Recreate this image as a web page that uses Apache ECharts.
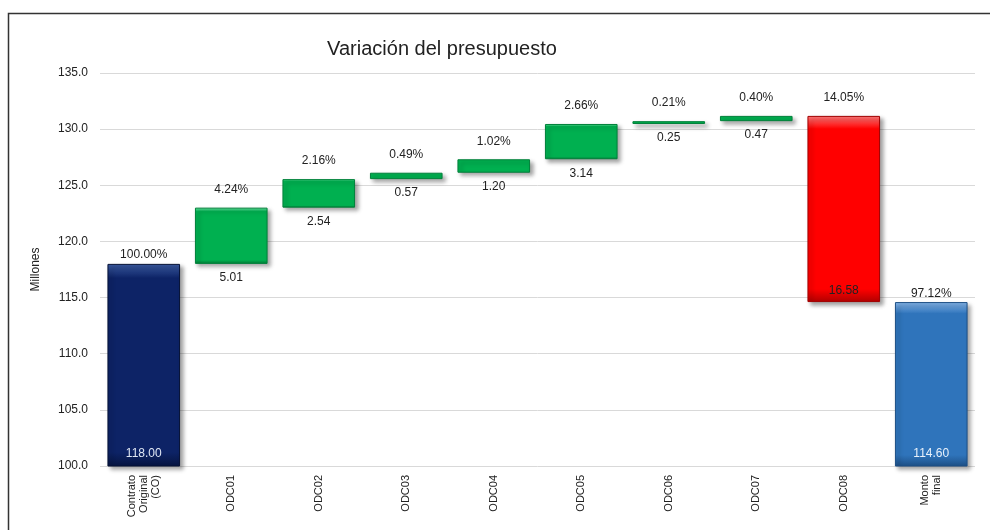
<!DOCTYPE html>
<html><head><meta charset="utf-8">
<script src="https://cdn.jsdelivr.net/npm/echarts@6/dist/echarts.min.js"></script>
<style>html,body{margin:0;padding:0;background:#fff}#c{width:990px;height:530px}</style>
</head><body><div id="c"></div>
<script>
const categories = ['Contrato\nOriginal\n(CO)','ODC01','ODC02','ODC03','ODC04','ODC05','ODC06','ODC07','ODC08','Monto\nfinal'];
const startValue = 118.00;
const changes = [5.01, 2.54, 0.57, 1.20, 3.14, 0.25, 0.47, -16.58];
const finalValue = 114.60;
const pctLabels = ['100.00%','4.24%','2.16%','0.49%','1.02%','2.66%','0.21%','0.40%','14.05%','97.12%'];
const valueLabels = ['118.00','5.01','2.54','0.57','1.20','3.14','0.25','0.47','16.58','114.60'];
const yTicks = {min:100, max:135, interval:5};

const F = 'Liberation Sans, Arial, sans-serif';
function grad(light, mid, dark){
  return new echarts.graphic.LinearGradient(0,0,0,1,[
    {offset:0,color:light},{offset:0.07,color:mid},{offset:0.93,color:mid},{offset:1,color:dark}]);
}
const styles = {
  co:{color:grad('#3a5aa0','#0d2366','#061440'), borderColor:'#051035'},
  up:{color:grad('#6ae6a2','#00b050','#007a35'), borderColor:'#00803a'},
  down:{color:grad('#ff7a7a','#ff0000','#b00000'), borderColor:'#a00000'},
  fin:{color:grad('#86b6ea','#2f74bb','#1d4f85'), borderColor:'#1d4f85'}
};
const base = [], delta = [], zero = [];
let run = startValue;
base.push({value:0, itemStyle:{color:'transparent'}});
delta.push({value:startValue, itemStyle:styles.co,
  label:{show:true, position:'insideBottom', distance:7, formatter:valueLabels[0], color:'#dfe6f3'}});
zero.push({value:0, label:{distance:3}});
changes.forEach((c,i)=>{
  const lo = c>=0 ? run : run + c;
  base.push({value:lo, itemStyle:{color:'transparent'}});
  const st = c>=0 ? styles.up : styles.down;
  const lab = c>=0
    ? {show:true, position:'bottom', distance:8, formatter:valueLabels[i+1], color:'#222'}
    : {show:true, position:'insideBottom', distance:5, formatter:valueLabels[i+1], color:'#222'};
  delta.push({value:Math.abs(c), itemStyle:st, label:lab});
  zero.push({value:0, label:{distance:12}});
  run += c;
});
base.push({value:0, itemStyle:{color:'transparent'}});
delta.push({value:finalValue, itemStyle:styles.fin,
  label:{show:true, position:'insideBottom', distance:7, formatter:valueLabels[9], color:'#e8f0fa'}});
zero.push({value:0, label:{distance:2}});

const chart = echarts.init(document.getElementById('c'), null, {renderer:'canvas'});
chart.setOption({
  animation:false,
  backgroundColor:'#fff',
  textStyle:{fontFamily:F},
  title:{text:'Variación del presupuesto', left:437, top:34, textAlign:'center',
    textStyle:{fontFamily:F, fontSize:20, fontWeight:'normal', color:'#222'}},
  graphic:[{type:'rect', shape:{x:8.5, y:13.5, width:1000, height:540},
    style:{fill:'none', stroke:'#333', lineWidth:1.5}, silent:true}],
  grid:{left:100, right:15, top:73, bottom:64},
  xAxis:{type:'category', data:categories,
    axisLine:{show:false}, axisTick:{show:false},
    axisLabel:{rotate:90, interval:0, margin:9, fontFamily:F, fontSize:11, color:'#222', lineHeight:12}},
  yAxis:{type:'value', min:yTicks.min, max:yTicks.max, interval:yTicks.interval,
    name:'Millones', nameLocation:'middle', nameGap:58,
    nameTextStyle:{fontFamily:F, fontSize:12, color:'#222'},
    axisLine:{show:false}, axisTick:{show:false},
    axisLabel:{formatter:v=>v.toFixed(1), fontFamily:F, fontSize:12, color:'#222', margin:12},
    splitLine:{lineStyle:{color:'#d9d9d9', width:1}}},
  series:[
    {type:'bar', stack:'w', data:base, barWidth:'83%', silent:true, itemStyle:{color:'transparent'}},
    {type:'bar', stack:'w', data:delta, barWidth:'83%',
      itemStyle:{borderWidth:1, shadowBlur:4, shadowOffsetX:3, shadowOffsetY:3, shadowColor:'rgba(0,0,0,0.35)'},
      label:{fontFamily:F, fontSize:12}},
    {type:'bar', stack:'w', data:zero, barWidth:'83%', itemStyle:{color:'transparent'},
      label:{show:true, position:'top', fontFamily:F, fontSize:12, color:'#222',
        formatter:p=>pctLabels[p.dataIndex]}}
  ]
});
</script></body></html>
